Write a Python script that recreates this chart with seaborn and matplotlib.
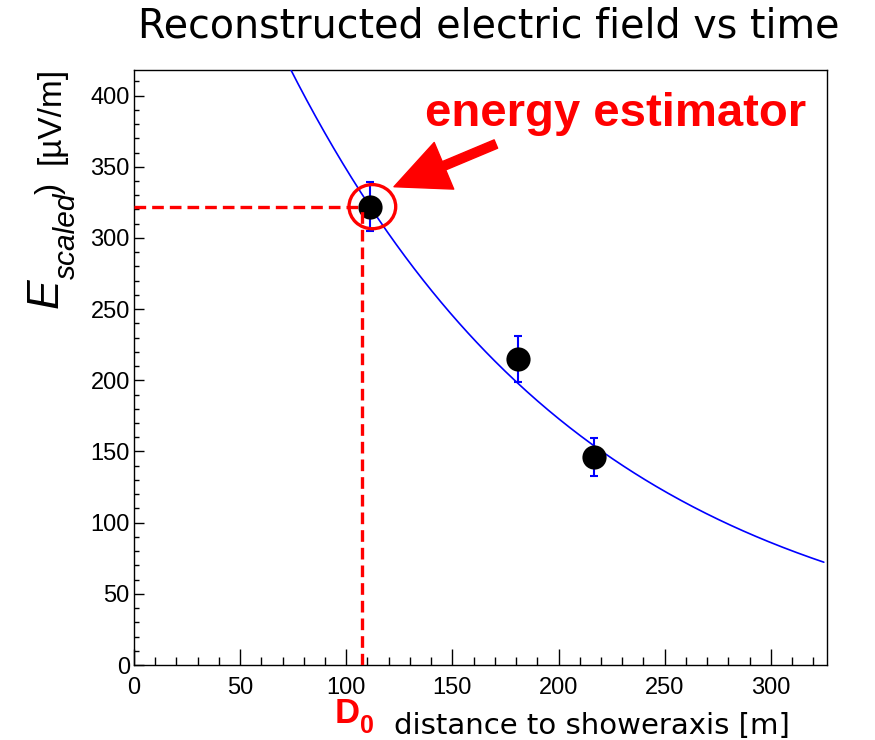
import numpy as np
import pandas as pd
import matplotlib
matplotlib.use("Agg")
import matplotlib.pyplot as plt
import seaborn as sns
from matplotlib.patches import Ellipse
from matplotlib.ticker import MultipleLocator

# ---- data ----
distance = [111, 181, 216.5]          # m
efield = [322, 215, 146]              # µV/m
efield_err = [17, 16, 13.5]
fit_amplitude = 701.0                 # exponential fit parameters
fit_length = 143.0
fit_range = [73, 325]
d0 = 107.5
e_at_d0 = 322
x_ticks = [0, 50, 100, 150, 200, 250, 300]
y_ticks = [0, 50, 100, 150, 200, 250, 300, 350, 400]

sns.set_theme(style="white")
plt.rcParams['font.family'] = ['Liberation Sans', 'DejaVu Sans']

W, H = 875, 740
fig = plt.figure(figsize=(W / 100, H / 100), dpi=100)
ax = fig.add_axes([134 / W, 1 - 665 / H, (827 - 134) / W, (665 - 70) / H])


def fx(px):
    return px / W


def fy(py):
    return 1 - py / H


df = pd.DataFrame({"d": distance, "e": efield, "err": efield_err})

# fit curve
xf = np.linspace(fit_range[0], fit_range[1], 300)
fit_df = pd.DataFrame({"d": xf, "e": fit_amplitude * np.exp(-xf / fit_length)})
sns.lineplot(data=fit_df, x="d", y="e", ax=ax, color="#0000ff", lw=1.2, zorder=3)

# error bars
ax.errorbar(df["d"], df["e"], yerr=df["err"], fmt="none", ecolor="#0000ff",
            elinewidth=1.5, capsize=3, capthick=1.5, zorder=4)
sns.scatterplot(data=df, x="d", y="e", ax=ax, color="black", s=260,
                edgecolor="black", zorder=5)

# red dashed guide lines
ax.plot([0, d0], [e_at_d0, e_at_d0], color="#ff0000", lw=2.4, ls=(0, (3.5, 1.8)), zorder=6)
ax.plot([d0, d0], [0, e_at_d0], color="#ff0000", lw=2.4, ls=(0, (3.5, 1.8)), zorder=6)

# circle
ax.add_patch(Ellipse((distance[0] + 1.3, efield[0]), 22, 31, fill=False,
                     ec="#ff0000", lw=2.4, zorder=7))
# arrow
ax.annotate("", xy=(122.5, 336), xytext=(170.5, 366),
            arrowprops=dict(arrowstyle="simple,head_length=1.5,head_width=1.4,tail_width=0.25",
                            color="#ff0000", mutation_scale=26, shrinkA=0, shrinkB=0),
            zorder=8)
fig.text(fx(425), fy(126), "energy estimator", color="#ff0000", fontsize=34,
         fontweight="bold", ha="left", va="baseline", zorder=8)

ax.set_xlim(0, 326.5)
ax.set_ylim(0, 418)
ax.set_xticks(x_ticks)
ax.set_yticks(y_ticks)
ax.xaxis.set_minor_locator(MultipleLocator(10))
ax.yaxis.set_minor_locator(MultipleLocator(10))
ax.tick_params(which="both", bottom=True, left=True, top=False, right=False)
ax.tick_params(axis="x", which="major", direction="in", length=11.5, width=1.0,
               labelsize=17, pad=8.5, color="black", labelcolor="black")
ax.tick_params(axis="x", which="minor", direction="in", length=5.8, width=1.0, color="black")
ax.tick_params(axis="y", which="major", direction="in", length=7.5, width=1.0,
               labelsize=17, pad=3, color="black", labelcolor="black")
ax.tick_params(axis="y", which="minor", direction="in", length=3.8, width=1.0, color="black")
ax.set_xlabel("")
ax.set_ylabel("")
for s in ax.spines.values():
    s.set_color("black")
    s.set_linewidth(1.0)
ax.set_facecolor("white")

# title
fig.text(fx(489), fy(37), "Reconstructed electric field vs time", fontsize=28.5,
         family="DejaVu Sans", ha="center", va="baseline", color="black")

# x label
fig.text(fx(335), fy(723), "D", fontsize=25, fontweight="bold", color="#ff0000",
         ha="left", va="baseline")
fig.text(fx(360), fy(733), "0", fontsize=18, fontweight="bold", color="#ff0000",
         ha="left", va="baseline")
fig.text(fx(394), fy(734), "distance to showeraxis [m]", fontsize=21, family="DejaVu Sans",
         color="black", ha="left", va="baseline")

# y label pieces
fig.text(fx(46), fy(293), "E", fontsize=32, style="italic", rotation=90,
         ha="center", va="center", color="black")
fig.text(fx(67), fy(236), "scaled", fontsize=21.5, style="italic", rotation=90,
         ha="center", va="center", color="black")
fig.text(fx(50), fy(188), ")", fontsize=24, rotation=90,
         ha="center", va="center", color="black")
fig.text(fx(51), fy(115), "[µV/m]", fontsize=24, rotation=90,
         ha="center", va="center", color="black")

fig.savefig("out.png", dpi=100, facecolor="white")
